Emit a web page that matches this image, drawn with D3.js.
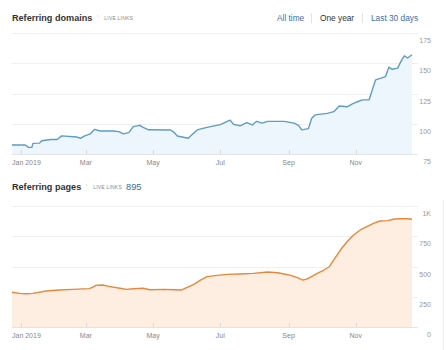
<!DOCTYPE html>
<html>
<head>
<meta charset="utf-8">
<script src="https://cdn.jsdelivr.net/npm/d3@7"></script>
<style>
  html, body { margin: 0; padding: 0; background: #fff; }
  svg { display: block; font-family: "Liberation Sans", Arial, sans-serif; }
</style>
</head>
<body>
<svg id="chart" width="446" height="350"></svg>
<script>
// ---- data ----
const domainDates = ["2018-12-24","2019-01-05","2019-01-08","2019-01-11","2019-01-12","2019-01-18","2019-01-20","2019-01-28","2019-02-03","2019-02-07","2019-02-21","2019-02-24","2019-02-28","2019-03-05","2019-03-09","2019-03-14","2019-03-26","2019-03-31","2019-04-04","2019-04-09","2019-04-13","2019-04-19","2019-04-22","2019-04-27","2019-05-17","2019-05-20","2019-05-23","2019-06-02","2019-06-05","2019-06-10","2019-06-19","2019-07-01","2019-07-07","2019-07-10","2019-07-13","2019-07-19","2019-07-25","2019-07-30","2019-08-03","2019-08-08","2019-08-13","2019-08-28","2019-09-06","2019-09-10","2019-09-13","2019-09-19","2019-09-22","2019-09-25","2019-10-06","2019-10-12","2019-10-17","2019-10-24","2019-10-29","2019-11-02","2019-11-07","2019-11-13","2019-11-16","2019-11-19","2019-11-28","2019-12-01","2019-12-04","2019-12-09","2019-12-12","2019-12-15","2019-12-18","2019-12-22"];
const domainValues = [82.4,82.4,80.5,80.5,83.8,84,86,87,87,90,89,88,90,91.6,95.4,94,94,93.5,91.6,92.7,97.6,98.7,97,95,94.8,92.9,89.9,88,90.7,94.9,97,99.3,101.8,103,99.5,98.3,101,99,102,100.5,102,102,100.5,98.6,94.9,96,104.5,107.3,108.6,110,114.7,114,116.4,118,119.7,119.7,128,136.3,139,146.8,145,146,151.5,156.2,154.3,157];

const pageDates = ["2018-12-24","2018-12-31","2019-01-06","2019-01-12","2019-01-24","2019-02-05","2019-02-17","2019-03-04","2019-03-07","2019-03-10","2019-03-16","2019-03-22","2019-04-01","2019-04-07","2019-04-13","2019-04-22","2019-04-28","2019-05-11","2019-05-20","2019-05-27","2019-06-01","2019-06-07","2019-06-13","2019-06-19","2019-06-28","2019-07-07","2019-07-19","2019-07-31","2019-08-13","2019-08-22","2019-08-28","2019-09-03","2019-09-09","2019-09-14","2019-09-18","2019-09-27","2019-10-03","2019-10-08","2019-10-12","2019-10-18","2019-10-24","2019-10-30","2019-11-05","2019-11-11","2019-11-17","2019-11-23","2019-11-30","2019-12-06","2019-12-12","2019-12-18","2019-12-22"];
const pageValues = [287,278,275,278,297,306,311,317,328,344,347,336,320,311,316,320,308,311,308,306,328,353,388,416,427,435,438,443,454,448,438,427,408,388,398,443,471,498,554,636,705,760,802,829,857,876,879,893,895,895,890];

const xTickDates = ["2019-01-01","2019-03-01","2019-05-01","2019-07-01","2019-09-01","2019-11-01"];
const xTickLabels = ["Jan 2019","Mar","May","Jul","Sep","Nov"];
const domainTicks = [75,100,125,150,175];
const domainTickLabels = ["75","100","125","150","175"];
const pageTicks = [0,250,500,750,1000];
const pageTickLabels = ["0","250","500","750","1K"];
const xDomain = ["2018-12-24","2019-12-22"];

// ---- drawing ----
const parse = d3.timeParse("%Y-%m-%d");
const svg = d3.select("#chart");
const X0 = 12, X1 = 412, GRID_END = 418, LABEL_X = 431;

const x = d3.scaleTime().domain(xDomain.map(parse)).range([X0, X1]);

function header(y, title, extra) {
  const g = svg.append("g");
  const t = g.append("text").attr("x", 12).attr("y", y)
    .attr("font-size", 9.1).attr("font-weight", "bold").attr("fill", "#333").text(title);
  const w = t.node().getComputedTextLength();
  g.append("text").attr("x", 12 + w + 5).attr("y", y - 4)
    .attr("font-size", 4).attr("fill", "#aaa").text("i");
  const ll = g.append("text").attr("x", 12 + w + 12).attr("y", y - 1)
    .attr("font-size", 5).attr("fill", "#888").attr("letter-spacing", 0.2).text("LIVE LINKS");
  if (extra) {
    const lw = ll.node().getComputedTextLength();
    g.append("text").attr("x", 12 + w + 12 + lw + 4).attr("y", y)
      .attr("font-size", 9.4).attr("fill", "#3d6ea8").text(extra);
  }
}

function panel(opts) {
  const y = d3.scaleLinear().domain(opts.yDomain).range([opts.bottom, opts.top]);
  const g = svg.append("g");
  g.selectAll("line.grid").data(opts.ticks).join("line")
    .attr("x1", X0).attr("x2", GRID_END)
    .attr("y1", d => Math.round(y(d)) + 0.5).attr("y2", d => Math.round(y(d)) + 0.5)
    .attr("stroke", (d, i) => i === 0 ? "#e4e4e4" : "#efefef").attr("stroke-width", 1);
  g.selectAll("text.yl").data(opts.ticks).join("text")
    .attr("x", LABEL_X).attr("y", d => y(d) + 10)
    .attr("text-anchor", "end").attr("font-size", 7).attr("fill", "#999")
    .text((d, i) => opts.tickLabels[i]);
  const data = opts.dates.map((d, i) => ({ date: parse(d), v: opts.values[i] }));
  const area = d3.area().x(d => x(d.date)).y0(y(opts.yDomain[0])).y1(d => y(d.v));
  const line = d3.line().x(d => x(d.date)).y(d => y(d.v));
  g.append("path").datum(data).attr("d", area).attr("fill", opts.fill);
  g.append("path").datum(data).attr("d", line).attr("fill", "none")
    .attr("stroke", opts.stroke).attr("stroke-width", 1.4).attr("stroke-linejoin", "round");
  const ticks = xTickDates.map((d, i) => ({ date: parse(d), label: xTickLabels[i] }));
  g.selectAll("line.xt").data(ticks).join("line")
    .attr("x1", d => Math.round(x(d.date)) + 0.5).attr("x2", d => Math.round(x(d.date)) + 0.5)
    .attr("y1", opts.bottom - 4).attr("y2", opts.bottom)
    .attr("stroke", "#d8d8d8");
  g.selectAll("text.xl").data(ticks).join("text")
    .attr("y", opts.bottom + 11).attr("font-size", 7).attr("fill", "#888")
    .text(d => d.label)
    .each(function(d) {
      const w = this.getComputedTextLength();
      let cx = x(d.date) - w / 2;
      if (cx < X0) cx = X0;
      d3.select(this).attr("x", cx);
    });
}

header(21, "Referring domains", null);
const nav = svg.append("g").attr("font-size", 8.3);
nav.append("text").attr("x", 277).attr("y", 21).attr("fill", "#3d6ea8").text("All time");
nav.append("line").attr("x1", 311.5).attr("x2", 311.5).attr("y1", 13).attr("y2", 23).attr("stroke", "#e3e3e3");
nav.append("text").attr("x", 320).attr("y", 21).attr("fill", "#333").text("One year");
nav.append("line").attr("x1", 362.5).attr("x2", 362.5).attr("y1", 13).attr("y2", 23).attr("stroke", "#e3e3e3");
nav.append("text").attr("x", 371).attr("y", 21).attr("fill", "#3d6ea8").text("Last 30 days");

panel({
  top: 33, bottom: 154, yDomain: [75, 175],
  ticks: domainTicks, tickLabels: domainTickLabels,
  dates: domainDates, values: domainValues,
  fill: "#eef6fd", stroke: "#5f9bc6"
});

header(190, "Referring pages", "895");
panel({
  top: 206, bottom: 327, yDomain: [0, 1000],
  ticks: pageTicks, tickLabels: pageTickLabels,
  dates: pageDates, values: pageValues,
  fill: "#fdeee1", stroke: "#e6883a"
});

svg.append("line").attr("x1", 443.5).attr("x2", 443.5).attr("y1", 200).attr("y2", 350).attr("stroke", "#eeeeee");
</script>
</body>
</html>
